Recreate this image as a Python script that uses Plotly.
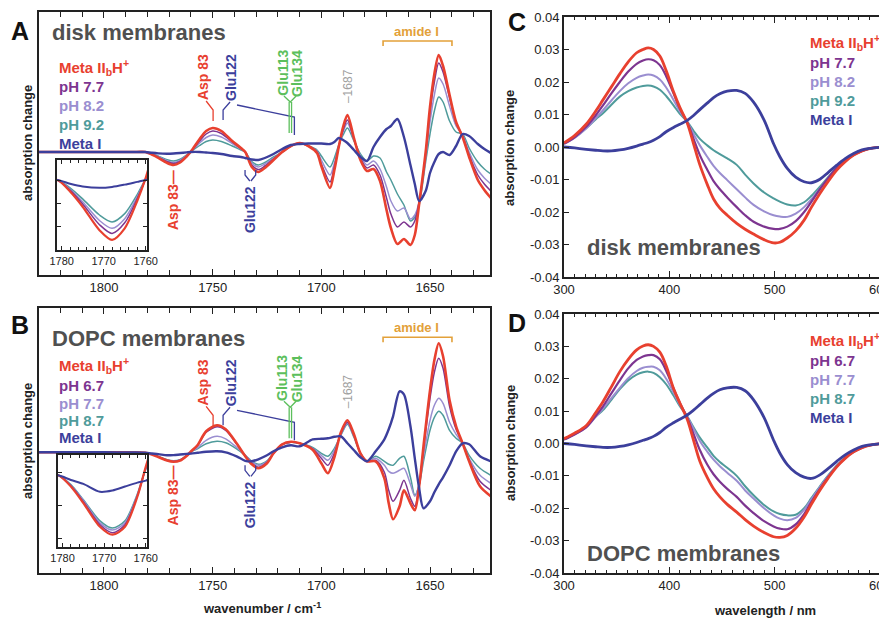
import plotly.graph_objects as go

# page body adds an 8 px margin; the figure is sized so it fits the 887x620 window exactly
OFF = 8
W, H = 887 - OFF, 620 - OFF
FONT = "Liberation Sans, Arial, Helvetica, sans-serif"

# ---------------- data: FTIR difference spectra (arbitrary units) ----------------
wn_A = [1830, 1800, 1785, 1781, 1778, 1775, 1771, 1768, 1765, 1762, 1760, 1756, 1753, 1750, 1746,
        1741, 1737, 1735, 1732, 1729, 1726, 1722, 1718, 1714, 1710, 1706, 1702, 1700, 1696, 1694,
        1692, 1690, 1688, 1685, 1682, 1679, 1676, 1673, 1670, 1668, 1665, 1662, 1659, 1657, 1655,
        1652, 1650, 1648, 1646, 1644, 1641, 1638, 1635, 1632, 1628, 1625, 1622]
A_metaII = [0, 0, 0, 0, -0.25, -0.58, -1.09, -1.30, -1.05, -0.45, 0.05, 1.3, 2.1, 2.4, 2.1,
            1.1, 0.4, 0.0, -1.5, -2.0, -1.6, -0.8, 0.0, 0.6, 0.9, 0.6, -0.1, -1.4, -3.6, -1.8,
            0.5, 2.5, 3.7, 1.4, -0.8, -1.9, -1.7, -2.9, -5.8, -7.6, -9.2, -8.7, -9.3, -8.3, -5.2,
            0.0, 4.5, 7.8, 9.7, 8.6, 5.7, 3.0, 1.5, -0.5, -2.8, -3.8, -4.6]
A_pH77 = [0, 0, 0, 0, -0.22, -0.52, -0.97, -1.16, -0.93, -0.40, 0.03, 1.1, 1.8, 2.1, 1.85,
          1.0, 0.35, 0.0, -1.3, -1.75, -1.4, -0.7, 0.0, 0.6, 0.9, 0.6, 0.0, -1.2, -3.0, -1.5,
          0.5, 2.2, 3.2, 1.3, -0.6, -1.6, -1.3, -2.3, -4.6, -6.2, -7.5, -7.0, -7.5, -6.9, -5.0,
          -0.2, 4.0, 7.0, 8.9, 8.0, 5.4, 2.9, 1.6, -0.3, -2.3, -3.2, -3.9]
A_pH82 = [0, 0, 0, 0, -0.2, -0.47, -0.88, -1.05, -0.84, -0.36, 0.03, 0.9, 1.45, 1.7, 1.5,
          0.85, 0.3, 0.0, -1.1, -1.5, -1.2, -0.6, 0.0, 0.6, 0.9, 0.6, 0.1, -0.8, -2.3, -1.1,
          0.6, 2.0, 2.9, 1.2, -0.4, -1.3, -0.9, -1.7, -3.5, -4.9, -5.9, -5.6, -6.7, -6.3, -5.0,
          -0.6, 3.0, 5.7, 7.4, 6.8, 4.6, 2.6, 1.7, 0.0, -1.8, -2.6, -3.2]
A_pH92 = [0, 0, 0, 0, -0.17, -0.41, -0.76, -0.91, -0.73, -0.31, 0.03, 0.65, 1.05, 1.2, 1.05,
          0.6, 0.2, 0.0, -0.95, -1.3, -1.05, -0.5, 0.0, 0.6, 0.9, 0.6, 0.2, -0.4, -1.5, -0.6,
          0.7, 1.7, 2.4, 1.1, -0.2, -0.9, -0.4, -0.6, -2.0, -2.8, -4.2, -5.3, -6.9, -6.5, -5.3,
          -1.0, 1.8, 4.1, 5.5, 5.0, 3.1, 2.0, 1.8, 0.4, -1.0, -1.7, -2.2]
A_metaI = [0, 0, 0, 0, -0.08, -0.14, -0.17, -0.15, -0.1, -0.04, 0.0, 0.0, -0.05, -0.1, -0.2,
           -0.4, -0.5, -0.6, -0.75, -0.8, -0.6, -0.2, 0.3, 0.7, 0.8, 0.85, 0.85, 0.85, 0.8, 1.0,
           1.4, 1.2, 0.9, 0.2, -0.5, -0.9, 0.5, 1.5, 2.3, 2.6, 3.3, 1.5, -1.3, -3.2, -4.9,
           -3.9, -2.1, -1.0, -0.2, 0.0, -0.3, 0.6, 1.8, 1.6, 0.8, 0.3, -0.1]

wn_B = [1830, 1800, 1785, 1781, 1778, 1775, 1771, 1768, 1765, 1762, 1760, 1757, 1753, 1748, 1744,
        1739, 1735, 1732, 1729, 1725, 1722, 1718, 1714, 1710, 1704, 1700, 1697, 1694, 1691, 1688,
        1685, 1682, 1679, 1675, 1671, 1669, 1667, 1664, 1662, 1659, 1657, 1655, 1653, 1650, 1648,
        1646, 1644, 1641, 1638, 1635, 1632, 1627, 1622]
B_metaII = [0, 0, -0.02, -0.05, -0.22, -0.47, -0.83, -0.95, -0.83, -0.37, 0.08, 0.7, 2.1, 2.7, 2.3,
            0.9, -0.4, -1.2, -1.6, -1.1, -0.1, 0.8, 1.05, 0.9, 0.25, -1.1, -2.1, -0.5, 2.0, 3.2,
            1.8, -0.1, -0.9, -0.9, -2.6, -5.1, -6.7, -5.4, -3.8, -5.1, -5.8, -3.4, 0.6, 6.2, 9.2,
            10.9, 9.6, 5.2, 2.6, 0.9, -0.9, -3.4, -4.4]
B_pH67 = [0, 0, -0.02, -0.05, -0.21, -0.45, -0.8, -0.92, -0.8, -0.36, 0.06, 0.65, 2.0, 2.55, 2.2,
          0.85, -0.35, -1.1, -1.5, -1.0, -0.1, 0.8, 1.0, 0.9, 0.35, -0.6, -1.3, -0.1, 1.9, 3.0,
          1.7, -0.1, -0.9, -0.8, -2.0, -3.8, -4.9, -3.8, -2.8, -4.6, -5.4, -3.3, 0.3, 5.4, 8.0,
          9.4, 8.4, 4.6, 2.3, 0.9, -0.8, -2.9, -3.8]
B_pH77 = [0, 0, -0.02, -0.05, -0.2, -0.43, -0.77, -0.88, -0.77, -0.34, 0.05, 0.45, 1.2, 1.6, 1.35,
          0.5, -0.3, -0.95, -1.3, -0.9, -0.1, 0.8, 1.0, 0.9, 0.4, -0.3, -0.8, 0.2, 1.8, 2.9,
          1.6, -0.1, -0.9, -0.6, -1.3, -1.9, -2.1, -1.8, -1.6, -3.2, -4.4, -3.2, -0.4, 3.2, 4.7,
          5.4, 4.9, 3.0, 1.8, 0.9, -0.6, -2.3, -3.1]
B_pH87 = [0, 0, -0.02, -0.05, -0.19, -0.42, -0.74, -0.85, -0.74, -0.33, 0.04, 0.35, 0.85, 1.1, 0.95,
          0.35, -0.3, -0.9, -1.2, -0.85, -0.1, 0.8, 1.0, 0.9, 0.5, -0.1, -0.4, 0.4, 1.7, 2.8,
          1.5, -0.1, -0.9, -0.4, -0.9, -1.2, -1.3, -0.6, -0.4, -2.5, -4.3, -3.3, -0.9, 2.2, 3.5,
          4.1, 3.7, 2.2, 1.4, 0.9, -0.3, -1.6, -2.3]
B_metaI = [0, 0, -0.02, -0.05, -0.12, -0.18, -0.3, -0.28, -0.22, -0.16, -0.13, -0.05, 0.05, 0.1, 0.0,
           -0.4, -0.85, -0.9, -0.7, -0.3, 0.1, 0.5, 0.7, 0.6, 1.3, 1.35, 1.4, 1.55, 1.6, 0.9,
           0.2, -0.5, -0.9, 0.1, 1.3, 2.3, 3.6, 6.1, 5.8, 2.6, -0.6, -3.6, -5.6, -4.9, -4.0,
           -3.2, -2.5, -1.3, 0.1, 0.9, 0.8, -0.4, -0.9]

# ---------------- data: UV-vis difference spectra ----------------
wl = [300, 310, 321, 330, 337, 345, 353, 361, 369, 375, 380, 385, 391, 397, 404, 410, 417, 423, 429, 436,
      442, 448, 455, 464, 472, 480, 490, 499, 505, 512, 520, 528, 535, 543, 551, 559, 567, 575, 583, 591,
      600, 607]
C_metaII = [0.0013, 0.0035, 0.0070, 0.0110, 0.0145, 0.0185, 0.0225, 0.0262, 0.0290, 0.0300, 0.0305, 0.0300,
            0.0280, 0.0235, 0.0170, 0.0122, 0.0074, 0.0010, -0.0055, -0.0115, -0.0160, -0.0188, -0.0210,
            -0.0235, -0.0253, -0.0268, -0.0285, -0.0295, -0.0293, -0.0280, -0.0258, -0.0225, -0.0185,
            -0.0143, -0.0105, -0.0071, -0.0045, -0.0025, -0.0012, -0.0004, -0.0001, 0.0]
C_pH77 = [0.0010, 0.0030, 0.0062, 0.0097, 0.0128, 0.0165, 0.0200, 0.0232, 0.0256, 0.0266, 0.0270, 0.0267,
          0.0252, 0.0218, 0.0165, 0.0118, 0.0076, 0.0025, -0.0025, -0.0070, -0.0105, -0.0130, -0.0155,
          -0.0185, -0.0210, -0.0230, -0.0245, -0.0252, -0.0252, -0.0245, -0.0228, -0.0200, -0.0168,
          -0.0130, -0.0095, -0.0065, -0.0042, -0.0024, -0.0012, -0.0004, -0.0001, 0.0]
C_pH82 = [0.0010, 0.0028, 0.0057, 0.0088, 0.0113, 0.0143, 0.0172, 0.0196, 0.0213, 0.0220, 0.0223, 0.0220,
          0.0208, 0.0183, 0.0145, 0.0110, 0.0077, 0.0040, 0.0005, -0.0030, -0.0058, -0.0080, -0.0102,
          -0.0130, -0.0155, -0.0178, -0.0198, -0.0210, -0.0214, -0.0215, -0.0205, -0.0185, -0.0160,
          -0.0128, -0.0095, -0.0066, -0.0042, -0.0024, -0.0012, -0.0004, -0.0001, 0.0]
C_pH92 = [0.0012, 0.0030, 0.0058, 0.0085, 0.0104, 0.0130, 0.0155, 0.0172, 0.0183, 0.0188, 0.0189, 0.0186,
          0.0176, 0.0157, 0.0128, 0.0102, 0.0078, 0.0050, 0.0025, 0.0005, -0.0010, -0.0022, -0.0035,
          -0.0055, -0.0085, -0.0112, -0.0140, -0.0158, -0.0168, -0.0177, -0.0180, -0.0170, -0.0150,
          -0.0122, -0.0092, -0.0064, -0.0041, -0.0024, -0.0012, -0.0004, -0.0001, 0.0]
C_metaI = [0.0000, -0.0003, -0.0007, -0.0010, -0.0012, -0.0012, -0.0009, -0.0004, 0.0003, 0.0009, 0.0014,
           0.0021, 0.0032, 0.0047, 0.0060, 0.0070, 0.0082, 0.0097, 0.0115, 0.0135, 0.0152, 0.0164, 0.0172,
           0.0174, 0.0165, 0.0138, 0.0083, 0.0010, -0.0030, -0.0066, -0.0093, -0.0107, -0.0110, -0.0099,
           -0.0078, -0.0056, -0.0036, -0.0020, -0.0009, -0.0004, -0.0001, 0.0]
D_metaII = [0.0015, 0.0032, 0.0055, 0.0095, 0.0129, 0.0175, 0.0222, 0.0260, 0.0289, 0.0301, 0.0305, 0.0300,
            0.0282, 0.0240, 0.0170, 0.0125, 0.0075, 0.0010, -0.0055, -0.0105, -0.0140, -0.0165, -0.0188,
            -0.0212, -0.0235, -0.0255, -0.0275, -0.0288, -0.0290, -0.0284, -0.0262, -0.0227, -0.0187,
            -0.0144, -0.0106, -0.0072, -0.0046, -0.0026, -0.0013, -0.0005, -0.0001, 0.0]
D_pH67 = [0.0012, 0.0028, 0.0050, 0.0085, 0.0115, 0.0155, 0.0195, 0.0232, 0.0258, 0.0269, 0.0273, 0.0273,
          0.0260, 0.0225, 0.0170, 0.0125, 0.0080, 0.0030, -0.0020, -0.0065, -0.0095, -0.0118, -0.0140,
          -0.0165, -0.0192, -0.0215, -0.0240, -0.0256, -0.0263, -0.0265, -0.0250, -0.0218, -0.0180,
          -0.0140, -0.0103, -0.0071, -0.0045, -0.0026, -0.0013, -0.0005, -0.0001, 0.0]
D_pH77 = [0.0012, 0.0028, 0.0050, 0.0082, 0.0108, 0.0140, 0.0172, 0.0202, 0.0224, 0.0234, 0.0237, 0.0237,
          0.0226, 0.0200, 0.0158, 0.0120, 0.0083, 0.0045, 0.0008, -0.0025, -0.0050, -0.0070, -0.0090,
          -0.0115, -0.0145, -0.0170, -0.0200, -0.0222, -0.0232, -0.0237, -0.0230, -0.0205, -0.0172,
          -0.0135, -0.0100, -0.0069, -0.0044, -0.0025, -0.0012, -0.0005, -0.0001, 0.0]
D_pH87 = [0.0013, 0.0030, 0.0053, 0.0083, 0.0103, 0.0135, 0.0168, 0.0195, 0.0213, 0.0220, 0.0222, 0.0218,
          0.0205, 0.0183, 0.0148, 0.0115, 0.0084, 0.0050, 0.0018, -0.0012, -0.0038, -0.0057, -0.0075,
          -0.0100, -0.0132, -0.0160, -0.0190, -0.0210, -0.0218, -0.0222, -0.0220, -0.0200, -0.0168,
          -0.0132, -0.0098, -0.0068, -0.0043, -0.0025, -0.0012, -0.0005, -0.0001, 0.0]
D_metaI = [0.0000, -0.0003, -0.0007, -0.0010, -0.0012, -0.0012, -0.0009, -0.0004, 0.0003, 0.0010, 0.0015,
           0.0022, 0.0034, 0.0050, 0.0064, 0.0075, 0.0088, 0.0103, 0.0120, 0.0140, 0.0155, 0.0166, 0.0172,
           0.0173, 0.0163, 0.0135, 0.0080, 0.0010, -0.0030, -0.0065, -0.0090, -0.0104, -0.0108, -0.0097,
           -0.0077, -0.0055, -0.0035, -0.0020, -0.0009, -0.0004, -0.0001, 0.0]

# ---------------- labels ----------------
names_disk = ["Meta II<sub>b</sub>H<sup>+</sup>", "pH 7.7", "pH 8.2", "pH 9.2", "Meta I"]
names_dopc = ["Meta II<sub>b</sub>H<sup>+</sup>", "pH 6.7", "pH 7.7", "pH 8.7", "Meta I"]
ftir_ticks = [1800, 1750, 1700, 1650]
ftir_ticktext = ["1800", "1750", "1700", "1650"]
inset_ticks = [1780, 1770, 1760]
inset_ticktext = ["1780", "1770", "1760"]
uv_xticks = [300, 400, 500, 600]
uv_xticktext = ["300", "400", "500", "600"]
uv_yticks = [0.04, 0.03, 0.02, 0.01, 0.0, -0.01, -0.02, -0.03, -0.04]
uv_yticktext = ["0.04", "0.03", "0.02", "0.01", "0.00", "-0.01", "-0.02", "-0.03", "-0.04"]

RED, PURPLE, LAV, TEAL, BLUE = "#e8402f", "#7d3590", "#9a8ed0", "#4f9b9b", "#3c3f9c"
COLORS = [RED, PURPLE, LAV, TEAL, BLUE]
GREEN, ORANGE, GREY, TITLE = "#5cbf5c", "#e3a13a", "#a0a0a0", "#505050"

fig = go.Figure()


def add_set(xv, ys, xa, ya, widths, smooth):
    for i in [3, 2, 1, 0, 4]:
        fig.add_trace(go.Scatter(x=xv, y=ys[i], mode="lines", xaxis=xa, yaxis=ya,
                                 line=dict(color=COLORS[i], width=widths[i], shape="spline", smoothing=smooth),
                                 showlegend=False, hoverinfo="skip"))


ftir_w = [2.6, 1.5, 1.5, 1.5, 2.4]
uv_w = [2.8, 2.2, 2.0, 2.0, 2.8]
setA = [A_metaII, A_pH77, A_pH82, A_pH92, A_metaI]
setB = [B_metaII, B_pH67, B_pH77, B_pH87, B_metaI]
add_set(wn_A, setA, "x", "y", ftir_w, 0.8)
add_set(wn_B, setB, "x2", "y2", ftir_w, 0.8)
add_set(wl, [C_metaII, C_pH77, C_pH82, C_pH92, C_metaI], "x3", "y3", uv_w, 1.0)
add_set(wl, [D_metaII, D_pH67, D_pH77, D_pH87, D_metaI], "x4", "y4", uv_w, 1.0)
add_set(wn_A, setA, "x5", "y5", [2.2, 1.5, 1.5, 1.5, 2.0], 0.8)
add_set(wn_B, setB, "x6", "y6", [2.2, 1.5, 1.5, 1.5, 2.0], 0.8)


def X(p):  # window pixel -> paper fraction
    return (p - OFF) / W


def Y(p):
    return 1 - (p - OFF) / H


def dx(a, b):
    return [X(a), min(1.0, X(b))]


def dy(top, bot):
    return [Y(bot), min(1.0, Y(top))]


LINE = dict(showline=True, linecolor="#222", linewidth=1.7, zeroline=False, showgrid=False, automargin=False)
TF = dict(family=FONT, size=13, color="#222")


def ftir_x(domain, anchor):
    return dict(LINE, domain=domain, anchor=anchor, range=[1829.9, 1622.4], tickmode="array",
                tickvals=ftir_ticks, ticktext=ftir_ticktext, ticks="inside", ticklen=6, tickwidth=1.3,
                tickcolor="#222", mirror="allticks", tickfont=TF,
                minor=dict(tick0=1800, dtick=10, ticks="inside", ticklen=5, tickwidth=1.2, tickcolor="#222"))


def ftir_y(domain, anchor, rng):
    return dict(LINE, domain=domain, anchor=anchor, range=rng, showticklabels=False, ticks="", mirror=True)


def uv_x(domain, anchor):
    return dict(LINE, domain=domain, anchor=anchor, range=[300, 606.7], tickmode="array",
                tickvals=uv_xticks, ticktext=uv_xticktext, ticks="inside", ticklen=6, tickwidth=1.3,
                tickcolor="#222", mirror="allticks", tickfont=TF, ticklabeloverflow="allow",
                minor=dict(tick0=300, dtick=10, ticks="inside", ticklen=3, tickwidth=1.0, tickcolor="#222"))


def uv_y(domain, anchor):
    return dict(LINE, domain=domain, anchor=anchor, range=[-0.04, 0.04], tickmode="array",
                tickvals=uv_yticks, ticktext=uv_yticktext, ticks="inside", ticklen=5, tickwidth=1.3,
                tickcolor="#222", mirror="allticks", tickfont=TF)


def inset_x(domain, anchor):
    d = dict(LINE, domain=domain, anchor=anchor, range=[1781.1, 1759.7], tickmode="array",
             tickvals=inset_ticks, ticktext=inset_ticktext, ticks="inside", ticklen=4, tickwidth=1.1,
             tickcolor="#222", mirror="allticks", ticklabeloverflow="allow",
             tickfont=dict(family=FONT, size=11, color="#222"),
             minor=dict(tick0=1780, dtick=2, ticks="inside", ticklen=3, tickwidth=1.0, tickcolor="#222"))
    d["linewidth"] = 1.6
    return d


def inset_y(domain, anchor, rng, tv):
    d = dict(LINE, domain=domain, anchor=anchor, range=rng, showticklabels=False, tickmode="array",
             tickvals=tv, ticks="inside", ticklen=4, tickwidth=1.1, tickcolor="#222", mirror="allticks")
    d["linewidth"] = 1.6
    return d


fig.update_layout(
    template="none",
    width=W, height=H, margin=dict(l=0, r=0, t=0, b=0, pad=0),
    paper_bgcolor="white", plot_bgcolor="white", showlegend=False,
    font=dict(family=FONT, color="#222"),
    xaxis=ftir_x(dx(39, 490), "y"), yaxis=ftir_y(dy(12, 275), "x", [-12.3, 14.0]),
    xaxis2=ftir_x(dx(39, 490), "y2"), yaxis2=ftir_y(dy(308, 573), "x2", [-12.07, 14.43]),
    xaxis3=uv_x(dx(564, 887), "y3"), yaxis3=uv_y(dy(17, 277), "x3"),
    xaxis4=uv_x(dx(564, 887), "y4"), yaxis4=uv_y(dy(314, 573), "x4"),
    xaxis5=inset_x(dx(57, 147), "y5"), yaxis5=inset_y(dy(160, 250), "x5", [-1.52, 0.435], [0, -0.5, -1.0]),
    xaxis6=inset_x(dx(58, 147), "y6"), yaxis6=inset_y(dy(455, 547), "x6", [-1.136, 0.258], [0, -0.5, -1.0]),
)

ann = []
shapes = []


def ptext(x, y, text, size, color, bold=True, angle=0, xanchor="center"):
    t = f"<b>{text}</b>" if bold else text
    ann.append(dict(x=X(x), y=Y(y), xref="paper", yref="paper", text=t, showarrow=False,
                    textangle=angle, xanchor=xanchor, yanchor="middle",
                    font=dict(family=FONT, size=size, color=color)))


def dtext(ax, x, y, text, size, color, bold=True, angle=-90):
    t = f"<b>{text}</b>" if bold else text
    ann.append(dict(x=x, y=y, xref=ax[0], yref=ax[1], text=t, showarrow=False, textangle=angle,
                    xanchor="center", yanchor="middle", font=dict(family=FONT, size=size, color=color)))


def poly(ax, pts, color, width=1.3):
    path = "M " + " L ".join(f"{px},{py}" for px, py in pts)
    shapes.append(dict(type="path", path=path, xref=ax[0], yref=ax[1],
                       line=dict(color=color, width=width)))


# panel letters, titles, axis titles
ptext(20, 31, "A", 25, "#111")
ptext(20, 325, "B", 25, "#111")
ptext(517, 22, "C", 25, "#111")
ptext(517, 323, "D", 25, "#111")
ptext(50, 33, "disk membranes", 22, TITLE, xanchor="left")
ptext(50, 338, "DOPC membranes", 22, TITLE, xanchor="left")
ptext(585, 248, "disk membranes", 22, TITLE, xanchor="left")
ptext(585, 553, "DOPC membranes", 22, TITLE, xanchor="left")
ptext(27, 143, "absorption change", 13, "#222", angle=-90)
ptext(27, 441, "absorption change", 13, "#222", angle=-90)
ptext(510, 148, "absorption change", 13, "#222", angle=-90)
ptext(510, 443, "absorption change", 13, "#222", angle=-90)
ptext(262, 608, "wavenumber / cm<sup>-1</sup>", 13, "#222")
ptext(765, 610, "wavelength / nm", 13, "#222")

# legends
for names, x0, ys in [(names_disk, 57, [68, 87, 106, 125, 143]),
                      (names_dopc, 57, [365, 385, 403, 420, 438]),
                      (names_disk, 808, [42, 62, 81, 100, 119]),
                      (names_dopc, 808, [340, 360, 379, 398, 418])]:
    for nm, yy, c in zip(names, ys, COLORS):
        ptext(x0, yy, nm, 15, c, xanchor="left")

# band assignments in FTIR panels
for ax, dyv in [(("x", "y"), 0.0), (("x2", "y2"), -0.5)]:
    dtext(ax, 1754.4, 7.5 + dyv, "Asp 83", 14, RED)
    poly(ax, [(1753.0, 5.1 + dyv), (1749.8, 4.2 + dyv), (1749.8, 3.1 + dyv)], RED)
    dtext(ax, 1741.6, 7.5 + dyv, "Glu122", 14, BLUE)
    poly(ax, [(1742.0, 5.0 + dyv), (1745.2, 4.2 + dyv), (1745.2, 3.2 + dyv)], BLUE)
    poly(ax, [(1738.8, 4.7 + dyv), (1712.4, 3.5 + dyv), (1712.4, 1.7 + dyv)], BLUE)
    dtext(ax, 1717.8, 7.9 + dyv, "Glu113", 14, GREEN)
    dtext(ax, 1711.2, 7.9 + dyv, "Glu134", 14, GREEN)
    poly(ax, [(1717.2, 5.6 + dyv), (1714.3, 5.0 + dyv), (1711.6, 5.6 + dyv)], GREEN)
    poly(ax, [(1714.8, 5.0 + dyv), (1714.8, 1.9 + dyv)], GREEN)
    poly(ax, [(1713.7, 5.0 + dyv), (1713.7, 1.9 + dyv)], GREEN)
    dtext(ax, 1687.7, 6.6 + dyv, "–1687", 12, GREY, bold=False)
    dtext(ax, 1656.0, 12.0 + abs(dyv), "amide I", 13, ORANGE, angle=0)
    poly(ax, [(1671.6, 10.6 + abs(dyv) * 0.8), (1671.6, 11.1 + abs(dyv) * 0.8),
              (1639.9, 11.1 + abs(dyv) * 0.8), (1639.9, 10.6 + abs(dyv) * 0.8)], ORANGE, 1.6)
    dtext(ax, 1768.2, -4.8 - dyv, "Asp 83—", 14, RED)
    dtext(ax, 1732.8, -5.8 - dyv, "Glu122", 14, BLUE)
    poly(ax, [(1735.1, -1.8 - dyv), (1735.1, -2.3 - dyv), (1732.9, -2.9 - dyv)], BLUE)
    poly(ax, [(1730.2, -1.8 - dyv), (1730.2, -2.3 - dyv), (1732.4, -2.9 - dyv)], BLUE)

fig.update_layout(annotations=ann, shapes=shapes)
fig.write_html("out.html")
